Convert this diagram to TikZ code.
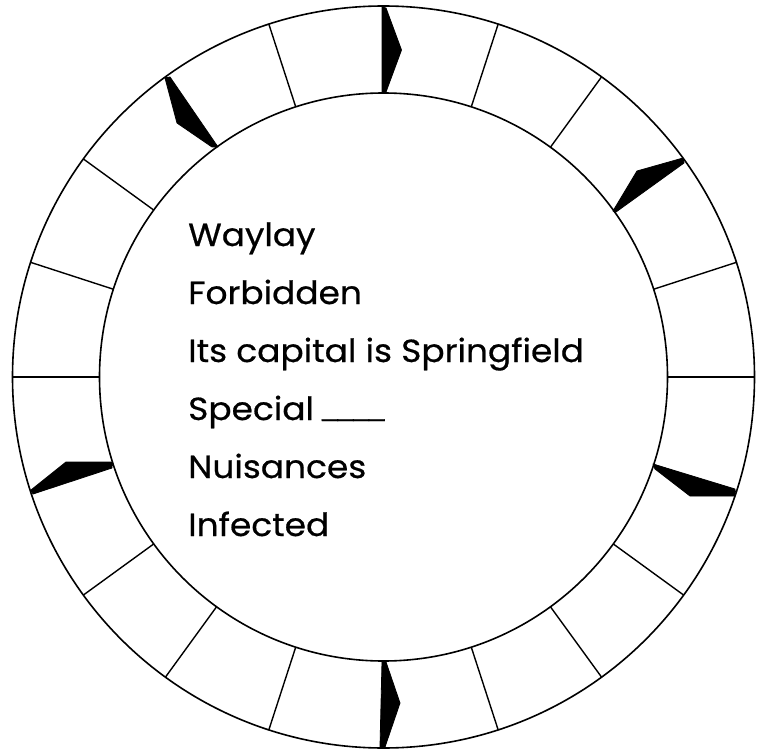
\documentclass[tikz,border=0pt]{standalone}
\usepackage{fontspec}
\setmainfont[FakeStretch=1.075,FakeBold=0.6]{Poppins}
\newfontfamily\blankfont[FakeBold=1.3]{Liberation Sans}
\usetikzlibrary{calc}
\begin{document}
\begin{tikzpicture}[x=1pt,y=1pt,
  ring/.style={line width=1.6pt},
  divider/.style={line width=1.4pt},
  wedge/.style={fill=black,draw=black,line width=0.8pt,line join=round},
  label/.style={anchor=base west,inner sep=0pt,font=\fontsize{32}{38}\selectfont}]
\useasboundingbox (0,0) rectangle (763,-749);
\coordinate (c) at (383.5,-377);
\draw[ring] (c) circle[radius=371];
\draw[ring] (c) circle[radius=284];
\foreach \a in {0,18,...,342} \draw[divider] ($(c)+(\a:284)$) -- ($(c)+(\a:371)$);
% wedges
\fill[wedge] (382,-7) -- (386,-8) -- (401.5,-50) -- (386,-92) -- (382,-92) -- cycle;
\fill[wedge] (382,-662) -- (386,-662) -- (400,-703) -- (385,-747) -- (380,-747) -- cycle;
\fill[wedge] (165,-78) -- (170,-77) -- (218,-147) -- (212,-147) -- (177,-123) -- cycle;
\fill[wedge] (613,-211) -- (637,-171) -- (683,-158) -- (684,-163) -- (616,-212) -- cycle;
\fill[wedge] (653,-464) -- (735,-489) -- (735,-496) -- (690,-496) -- (655,-469) -- cycle;
\fill[wedge] (31,-490) -- (66,-462) -- (112,-462) -- (112,-468) -- (33,-494) -- cycle;
% labels
\node[label] (l1) at (188,-246) {Waylay};
\node[label] (l2) at (188,-304) {Forbidden};
\node[label] (l3) at (188,-362) {Its capital is Springfield};
\node[label] (l4) at (188,-420) {Special \hspace{-1pt}\raisebox{4.5pt}{\blankfont\fontsize{28}{34}\selectfont\_\_\_\_}};
\node[label] (l5) at (188,-478) {Nuisances};
\node[label] (l6) at (188,-536) {Infected};
\end{tikzpicture}
\end{document}
